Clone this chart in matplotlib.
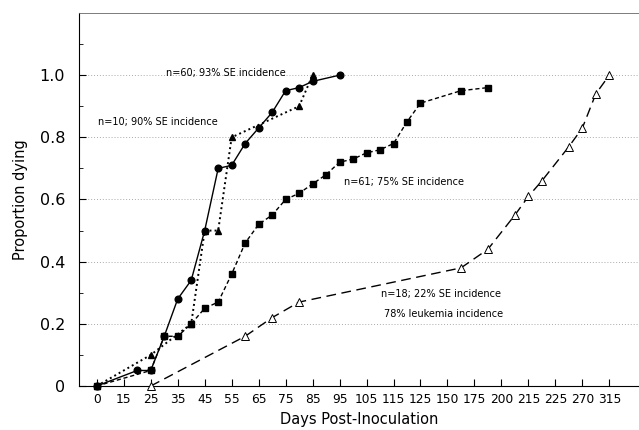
import numpy as np
import matplotlib

matplotlib.use("Agg")
import matplotlib.pyplot as plt
from matplotlib.ticker import FuncFormatter

# Tick days shown on the (unevenly spaced) x axis
tick_days = [0, 15, 25, 35, 45, 55, 65, 75, 85, 95, 105, 115, 125,
             150, 175, 200, 215, 225, 270, 315]

# n=60; 93% SE incidence (filled circles, solid)
circ_days = [0, 20, 25, 30, 35, 40, 45, 50, 55, 60, 65, 70, 75, 80, 85, 95]
circ_prop = [0, 0.05, 0.05, 0.16, 0.28, 0.34, 0.50, 0.70, 0.71, 0.78, 0.83,
             0.88, 0.95, 0.96, 0.98, 1.00]

# n=10; 90% SE incidence (filled triangles, dotted)
tri_days = [0, 25, 40, 45, 50, 55, 80, 85]
tri_prop = [0, 0.10, 0.20, 0.50, 0.50, 0.80, 0.90, 1.00]

# n=61; 75% SE incidence (filled squares, short dash)
sq_days = [0, 25, 30, 35, 40, 45, 50, 55, 60, 65, 70, 75, 80, 85, 90, 95,
           100, 105, 110, 115, 120, 125, 162.5, 187.5]
sq_prop = [0, 0.05, 0.16, 0.16, 0.20, 0.25, 0.27, 0.36, 0.46, 0.52, 0.55,
           0.60, 0.62, 0.65, 0.68, 0.72, 0.73, 0.75, 0.76, 0.78, 0.85,
           0.91, 0.95, 0.96]

# n=18; 22% SE / 78% leukemia (open triangles, long dash)
open_days = [25, 60, 70, 80, 162.5, 187.5, 207.5, 215, 220, 247.5, 270,
             292.5, 315]
open_prop = [0, 0.16, 0.22, 0.27, 0.38, 0.44, 0.55, 0.61, 0.66, 0.77, 0.83,
             0.94, 1.00]

# piecewise-linear axis: every tick label gets the same width
knot_days = np.array([-15] + tick_days + [360, 405], dtype=float)
knot_pos = np.arange(len(knot_days), dtype=float) - 1


def forward(d):
    return np.interp(d, knot_days, knot_pos)


def inverse(p):
    return np.interp(p, knot_pos, knot_days)


fig = plt.figure(figsize=(6.39, 4.30), dpi=100)
ax = fig.add_axes([0.1236, 0.1023, 0.8764, 0.8675])
ax.set_xscale("function", functions=(forward, inverse))

ax.plot(sq_days, sq_prop, color="black", lw=1.0, ls=(0, (3, 2)),
        marker="s", ms=4, clip_on=False, zorder=3)
ax.plot(open_days, open_prop, color="black", lw=1.0, ls=(0, (7, 4)),
        marker="^", ms=5.5, mfc="white", mec="black", mew=0.7,
        clip_on=False, zorder=3)
ax.plot(tri_days, tri_prop, color="black", lw=1.4, ls=(0, (1, 1.6)),
        marker="^", ms=5, clip_on=False, zorder=4)
ax.plot(circ_days, circ_prop, color="black", lw=1.0, ls="-",
        marker="o", ms=4.8, clip_on=False, zorder=5)

txt = dict(fontsize=7, family="DejaVu Sans", va="center", ha="left")
ax.text(30.5, 1.006, "n=60; 93% SE incidence", **txt)
ax.text(0.5, 0.85, "n=10; 90% SE incidence", **txt)
ax.text(96.5, 0.655, "n=61; 75% SE incidence", **txt)
ax.text(110.5, 0.295, "n=18; 22% SE incidence", **txt)
ax.text(111.5, 0.233, "78% leukemia incidence", **txt)

ax.set_xlim(inverse(-0.66), inverse(20.1))
ax.set_ylim(0, 1.2)
ax.set_xticks(tick_days)
ax.set_xticklabels([str(d) for d in tick_days], fontsize=8.8)
ax.xaxis.set_minor_locator(plt.NullLocator())
ax.set_yticks([0, 0.2, 0.4, 0.6, 0.8, 1.0])
ax.set_yticks([0.1, 0.3, 0.5, 0.7, 0.9, 1.1], minor=True)
ax.yaxis.set_major_formatter(FuncFormatter(lambda v, _: "0" if v == 0 else f"{v:.1f}"))
ax.tick_params(axis="y", labelsize=11.5, direction="in", length=5, pad=10)
ax.tick_params(axis="y", which="minor", direction="in", length=3)
ax.tick_params(axis="x", direction="in", length=5, pad=5)

for y in [0.2, 0.4, 0.6, 0.8, 1.0]:
    ax.axhline(y, color="#aaaaaa", ls=(0, (1, 2)), lw=0.7, zorder=1)

ax.spines["right"].set_visible(False)
ax.spines["top"].set_linewidth(0.6)
ax.spines["top"].set_color("#666666")

ax.set_xlabel("Days Post-Inoculation", fontsize=10.5, labelpad=4)
ax.set_ylabel("Proportion dying", fontsize=10.5, labelpad=8)

fig.savefig("out.png", dpi=100)
